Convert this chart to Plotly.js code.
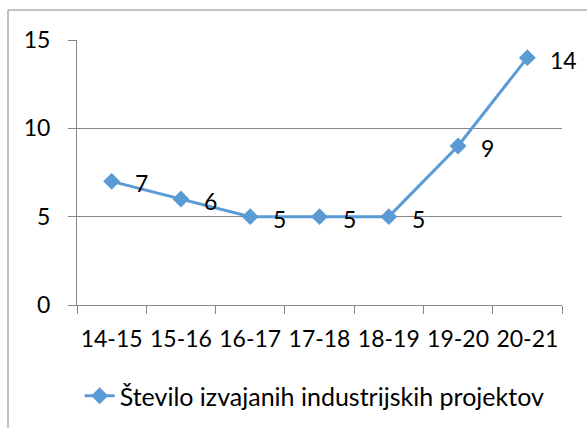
<!DOCTYPE html>
<html><head><meta charset="utf-8">
<script src="https://cdn.plot.ly/plotly-3.0.1.min.js"></script>
<style>html,body{margin:0;padding:0;background:#fff}#c{width:587px;height:428px}</style>
</head><body><div id="c"></div>
<script>
const categories = ["14-15","15-16","16-17","17-18","18-19","19-20","20-21"];
const values = [7,6,5,5,5,9,14];
const seriesName = "Število izvajanih industrijskih projektov";
const yTicks = [0,5,10,15];

const blue = "#5B9BD5";
const gray = "#878787";
const font = {family: "Lato, 'Open Sans', sans-serif", size: 23, color: "#000"};
const legendFont = {family: "Lato, 'Open Sans', sans-serif", size: 25, color: "#000"};

const trace = {
  x: categories, y: values, type: "scatter", mode: "lines+markers",
  name: seriesName,
  line: {color: blue, width: 3},
  marker: {symbol: "diamond", size: 13, color: blue},
  cliponaxis: false
};

const annotations = categories.map((c,i)=>({
  x: c, y: values[i], xref: "x", yref: "y", text: String(values[i]),
  showarrow: false, xanchor: "left", yanchor: "middle", xshift: 21, yshift: -2,
  font: font
}));

const layout = {
  width: 587, height: 428,
  margin: {l: 77, r: 25, t: 40, b: 123},
  paper_bgcolor: "#fff", plot_bgcolor: "#fff",
  font: font,
  showlegend: true,
  legend: {orientation: "h", x: 0.49, xanchor: "center", yref: "container", y: 1 - 396/428, yanchor: "middle", font: legendFont},
  xaxis: {
    type: "category", range: [-0.5, 6.5], tickson: "boundaries", tickangle: 0,
    ticks: "outside", ticklen: 8, tickcolor: gray, tickwidth: 1,
    showline: true, linecolor: gray, linewidth: 1, automargin: false,
    showgrid: false, ticklabelstandoff: 13, tickfont: font
  },
  yaxis: {
    range: [0, 15], tickvals: yTicks, ticks: "outside", ticklen: 8, tickcolor: gray,
    showline: true, linecolor: gray, gridcolor: gray, gridwidth: 1, automargin: false,
    zeroline: false, ticklabelstandoff: 13, tickfont: font
  },
  annotations: annotations,
  shapes: [{
    type: "rect", xref: "paper", yref: "paper",
    x0: (8-77)/485, x1: 1.3, y0: -0.6, y1: (305-10)/265,
    line: {color: gray, width: 1}, fillcolor: "rgba(0,0,0,0)", layer: "below"
  }]
};

Plotly.newPlot("c", [trace], layout, {displayModeBar: false, staticPlot: true});
</script></body></html>
